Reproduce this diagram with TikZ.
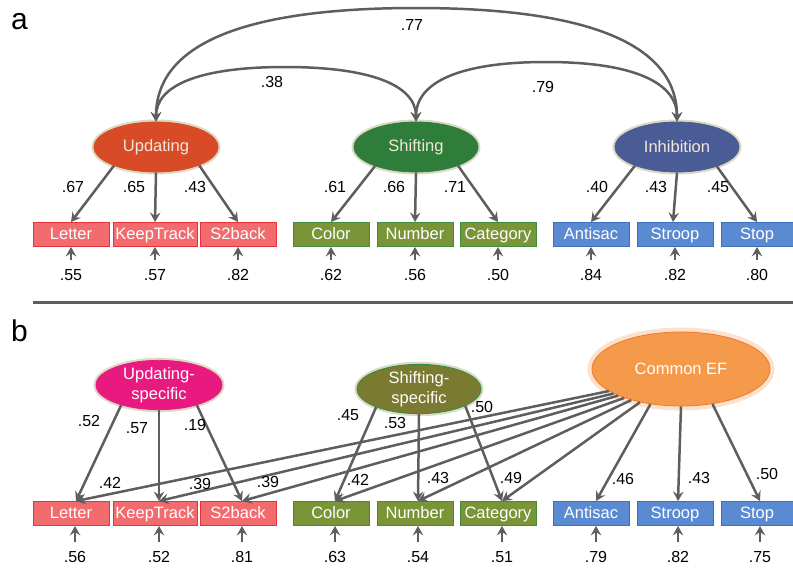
\documentclass[tikz,border=0pt]{standalone}
\usepackage{fontspec}
\setmainfont{Liberation Sans}
\usetikzlibrary{arrows.meta,shapes.geometric}
\definecolor{rfill}{HTML}{F16B6F}
\definecolor{rline}{HTML}{E8323A}
\definecolor{gfill}{HTML}{7A9438}
\definecolor{gline}{HTML}{3E8E3E}
\definecolor{bfill}{HTML}{5A8BD2}
\definecolor{bline}{HTML}{3D6FBA}
\definecolor{updc}{HTML}{D94B26}
\definecolor{shic}{HTML}{2E7D3A}
\definecolor{inhc}{HTML}{4A5C95}
\definecolor{glowc}{HTML}{DCD9C3}
\definecolor{uspc}{HTML}{E8197F}
\definecolor{sspc}{HTML}{7A7A30}
\definecolor{sspline}{HTML}{2E8B3E}
\definecolor{cefc}{HTML}{F59A4A}
\definecolor{cefline}{HTML}{F07830}
\definecolor{cefglow}{HTML}{FCE2CC}
\definecolor{arrc}{HTML}{5E5E5E}
\definecolor{txtlight}{HTML}{F2E8D8}
\begin{document}
\begin{tikzpicture}[x=1pt,y=-1pt,
  box/.style={draw, line width=0.9pt, minimum height=24pt, minimum width=76pt, inner sep=0pt,
    text=white, font=\fontsize{16.5}{17}\selectfont, text height=12pt, text depth=2.8pt},
  rbox/.style={box, fill=rfill, draw=rline},
  gbox/.style={box, fill=gfill, draw=gline},
  bbox/.style={box, fill=bfill, draw=bline},
  lat/.style={ellipse, inner sep=0pt, line width=0.8pt, font=\fontsize{16.5}{19.5}\selectfont,
    align=center, preaction={draw=glowc, line width=5pt}},
  arr/.style={draw=arrc, line width=2.5pt, -{Stealth[length=9.5pt,width=10.5pt,inset=3.5pt]}},
  darr/.style={draw=arrc, line width=2.5pt, {Stealth[length=9.5pt,width=10.5pt,inset=3.5pt]}-{Stealth[length=9.5pt,width=10.5pt,inset=3.5pt]}},
  lab/.style={font=\fontsize{16}{16}\selectfont, inner sep=1pt},
  err/.style={font=\fontsize{16}{16}\selectfont, inner xsep=1pt, inner ysep=9pt, text height=11.4pt, text depth=0pt},
  panel/.style={font=\fontsize{30}{30}\selectfont, inner sep=0pt}
]
\useasboundingbox (0,0) rectangle (793,570);

% ---------- panel a ----------
\node[panel] (pa) at (19.5,21.5) {a};

\node[lat, fill=updc, draw=updc, text=txtlight, minimum width=124pt, minimum height=50pt] (upd) at (156,147) {Updating};
\node[lat, fill=shic, draw=shic, text=txtlight, minimum width=124pt, minimum height=50pt] (shi) at (416,147) {Shifting};
\node[lat, fill=inhc, draw=inhc, text=txtlight, minimum width=124pt, minimum height=50pt] (inh) at (677,147) {Inhibition};

\node[rbox] (L1) at (71,234.5) {Letter};
\node[rbox, minimum width=84pt] (K1) at (155,234.5) {KeepTrack};
\node[rbox] (S1) at (238,234.5) {S2back};
\node[gbox] (C1) at (331,234.5) {Color};
\node[gbox] (N1) at (415,234.5) {Number};
\node[gbox] (G1) at (498,234.5) {Category};
\node[bbox] (A1) at (591,234.5) {Antisac};
\node[bbox] (R1) at (675,234.5) {Stroop};
\node[bbox, minimum width=72pt] (P1) at (757,234.5) {Stop};

% correlations
\draw[darr] (upd.north) .. controls (156,50) and (230,8) .. (416,8) .. controls (602,8) and (677,50) .. (inh.north);
\draw[darr] (upd.north) .. controls (156,85) and (200,67) .. (285,67) .. controls (370,67) and (416,85) .. (shi.north);
\draw[darr] (shi.north) .. controls (416,82) and (460,62) .. (546,62) .. controls (632,62) and (677,82) .. (inh.north);
\node[lab] (c77) at (412,25) {.77};
\node[lab] (c38) at (272,82) {.38};
\node[lab] (c79) at (543,87) {.79};

% loadings
\draw[arr] (upd.204) -- (L1.north);
\draw[arr] (upd.south) -- (K1.north);
\draw[arr] (upd.337) -- (S1.north);
\draw[arr] (shi.205) -- (C1.north);
\draw[arr] (shi.south) -- (N1.north);
\draw[arr] (shi.336) -- (G1.north);
\draw[arr] (inh.204) -- (A1.north);
\draw[arr] (inh.south) -- ([xshift=-2pt]R1.north);
\draw[arr] (inh.334) -- (P1.north);
\node[lab] at (73,187) {.67};
\node[lab] at (134,187) {.65};
\node[lab] at (195,187) {.43};
\node[lab] at (335,187) {.61};
\node[lab] at (394,187) {.66};
\node[lab] at (455,187) {.71};
\node[lab] at (597,187) {.40};
\node[lab] at (656,187) {.43};
\node[lab] at (718,187) {.45};

% errors
\foreach \b/\e/\x/\v in {L1/eL1/71/.55, K1/eK1/155/.57, S1/eS1/238/.82, C1/eC1/331/.62, N1/eN1/415/.56, G1/eG1/498/.50, A1/eA1/591/.84, R1/eR1/675/.82, P1/eP1/757/.80}{
  \node[err] (\e) at (\x,275) {\v};
  \draw[arr] (\e.north) -- (\e.north |- \b.south);
}

% divider
\draw[arrc, line width=3pt] (33,302) coordinate (dv1) -- (793,302) coordinate (dv2);

% ---------- panel b ----------
\node[panel] (pb) at (19.5,331) {b};

\node[lat, fill=uspc, draw=uspc, text=white, minimum width=126pt, minimum height=43pt] (usp) at (159,385) {Updating-\\specific};
\node[lat, fill=sspc, draw=sspline, text=white, minimum width=124pt, minimum height=48pt] (ssp) at (419,389) {Shifting-\\specific};
\node[lat, fill=cefc, draw=cefline, text=white, minimum width=178pt, minimum height=74pt,
      preaction={draw=cefglow, line width=9pt}] (cef) at (681,369) {Common EF};

\node[rbox] (L2) at (71,513.5) {Letter};
\node[rbox, minimum width=84pt] (K2) at (155,513.5) {KeepTrack};
\node[rbox] (S2) at (238,513.5) {S2back};
\node[gbox] (C2) at (331,513.5) {Color};
\node[gbox] (N2) at (415,513.5) {Number};
\node[gbox] (G2) at (498,513.5) {Category};
\node[bbox] (A2) at (591,513.5) {Antisac};
\node[bbox] (R2) at (675,513.5) {Stroop};
\node[bbox, minimum width=72pt] (P2) at (757,513.5) {Stop};

\coordinate (tL) at ([xshift=5pt]L2.north);
\coordinate (tK) at ([xshift=4pt]K2.north);
\coordinate (tS) at ([xshift=4pt]S2.north);
\coordinate (tC) at ([xshift=4pt]C2.north);
\coordinate (tN) at ([xshift=3pt]N2.north);
\coordinate (tG) at ([xshift=4pt]G2.north);
\coordinate (tA) at ([xshift=5pt]A2.north);
\coordinate (tR) at ([xshift=3pt]R2.north);
\coordinate (tP) at ([xshift=3pt]P2.north);

% specific loadings
\draw[arr] (usp.208) -- (tL);
\draw[arr] (usp.south) -- (tK);
\draw[arr] (usp.332) -- (tS);
\draw[arr] (ssp.203) -- (tC);
\draw[arr] (ssp.south) -- (tN);
\draw[arr] (ssp.340) -- (tG);
\node[lab] at (89,421) {.52};
\node[lab] at (137,428) {.57};
\node[lab] at (195,425) {.19};
\node[lab] at (348,415) {.45};
\node[lab] at (395,423) {.53};
\node[lab] at (482,407) {.50};

% common EF loadings
\draw[arr] (cef.197) -- (tL);
\draw[arr] (cef.200) -- (tK);
\draw[arr] (cef.203) -- (tS);
\draw[arr] (cef.207) -- (tC);
\draw[arr] (cef.212) -- (tN);
\draw[arr] (cef.219) -- (tG);
\draw[arr] (cef.229) -- (tA);
\draw[arr] (cef.270) -- (tR);
\draw[arr] (cef.312) -- (tP);
\node[lab] at (110,483) {.42};
\node[lab] at (200,484) {.39};
\node[lab] at (268,482) {.39};
\node[lab] at (358,480) {.42};
\node[lab] at (438,478) {.43};
\node[lab] at (511,478) {.49};
\node[lab] at (623,479) {.46};
\node[lab] at (699,478) {.43};
\node[lab] at (767,474) {.50};

% errors
\foreach \b/\e/\x/\v in {L2/eL2/75/.56, K2/eK2/159/.52, S2/eS2/242/.81, C2/eC2/335/.63, N2/eN2/418/.54, G2/eG2/502/.51, A2/eA2/596/.79, R2/eR2/678/.82, P2/eP2/760/.75}{
  \node[err] (\e) at (\x,557) {\v};
  \draw[arr] (\e.north) -- (\e.north |- \b.south);
}
\end{tikzpicture}
\end{document}
